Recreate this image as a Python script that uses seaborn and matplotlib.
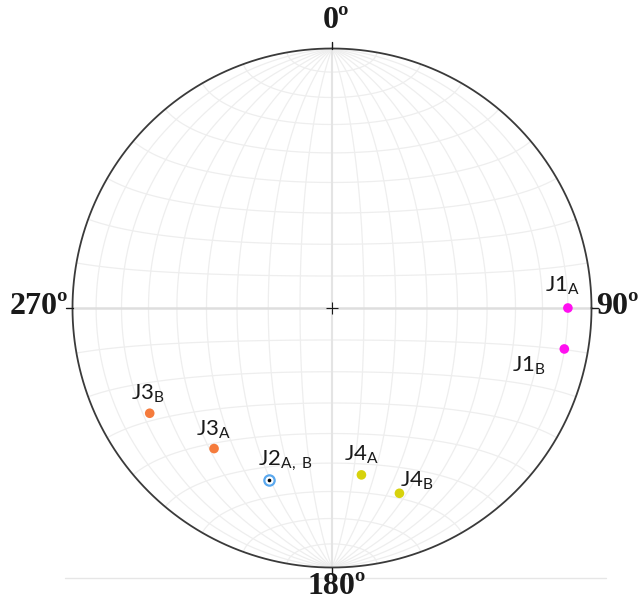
import numpy as np
import matplotlib
matplotlib.use("Agg")
import matplotlib.pyplot as plt
import seaborn as sns
import pandas as pd

# ---- data: poles (trend / plunge, degrees) ----
names = ["J1A", "J1B", "J2AB", "J3A", "J3B", "J4A", "J4B"]
sets = ["J1", "J1", "J2", "J3", "J3", "J4", "J4"]
trend = [90, 100, 200, 220, 240, 170, 160]
plunge = [10, 10, 30, 30, 20, 35, 25]
label_text = [r"$\mathrm{J1_{A}}$", r"$\mathrm{J1_{B}}$", r"$\mathrm{J2_{A,\ B}}$",
              r"$\mathrm{J3_{A}}$", r"$\mathrm{J3_{B}}$", r"$\mathrm{J4_{A}}$", r"$\mathrm{J4_{B}}$"]
cardinal_labels = ["0º", "90º", "180º", "270º"]

sns.set_theme(style="white")
plt.rcParams["mathtext.fontset"] = "custom"
plt.rcParams["mathtext.rm"] = "Lato"
plt.rcParams["mathtext.it"] = "Lato:italic"
plt.rcParams["mathtext.bf"] = "Lato:bold"


def project(tr, pl):
    tr = np.radians(np.asarray(tr, float))
    pl = np.radians(np.asarray(pl, float))
    e = np.cos(pl) * np.sin(tr)
    n = np.cos(pl) * np.cos(tr)
    d = np.sin(pl)
    return e / np.sqrt(1 + d), n / np.sqrt(1 + d)


def proj_vec(e, n, d):
    return e / np.sqrt(1 + d), n / np.sqrt(1 + d)


W, H = 641, 601
cx, cy, R = 332.0, 308.0, 259.5
fig = plt.figure(figsize=(W / 100, H / 100), dpi=100)
ax = fig.add_axes([0, 0, 1, 1])
ax.set_xlim(-cx / R, (W - cx) / R)
ax.set_ylim(-(H - cy) / R, cy / R)
ax.set_aspect("equal")
ax.axis("off")

gcol = "#eeeeee"
t = np.radians(np.linspace(-90, 90, 361))
# meridians (great circles through N-S axis)
for dip in range(10, 90, 10):
    dr = np.radians(dip)
    for s in (1, -1):
        e = s * np.cos(t) * np.cos(dr)
        n = np.sin(t)
        d = np.cos(t) * np.sin(dr)
        x, y = proj_vec(e, n, d)
        ax.plot(x, y, color=gcol, lw=0.9, zorder=1)
# small circles about N-S axis
a = np.radians(np.linspace(-90, 90, 361))
for lat in range(-80, 90, 10):
    if lat == 0:
        continue
    lr = np.radians(lat)
    e = np.cos(lr) * np.sin(a)
    n = np.full_like(a, np.sin(lr))
    d = np.cos(lr) * np.cos(a)
    x, y = proj_vec(e, n, d)
    ax.plot(x, y, color=gcol, lw=0.9, zorder=1)
# main axes
ax.plot([-1, 1], [0, 0], color="#dedede", lw=1.8, zorder=1)
ax.plot([0, 0], [-1, 1], color="#e4e4e4", lw=1.5, zorder=1)

# primitive circle
th = np.linspace(0, 2 * np.pi, 721)
ax.plot(np.cos(th), np.sin(th), color="#3a3a3a", lw=1.3, zorder=3)
# ticks
tk = 1.025
ax.plot([0, 0], [1, tk], color="k", lw=1, zorder=3)
ax.plot([0, 0], [-1, -tk], color="k", lw=1, zorder=3)
ax.plot([1, tk], [0, 0], color="k", lw=1, zorder=3)
ax.plot([-1, -tk], [0, 0], color="k", lw=1, zorder=3)
# centre cross
ax.plot([0], [0], marker="+", color="k", ms=9, mew=0.8, zorder=4)
# faint line below the net
ax.plot([(65 - cx) / R, (606 - cx) / R], [(cy - 578) / R] * 2, color="#e6e6e6", lw=1, zorder=1)

# cardinal labels
cpos = [(336, 21), (617, 306), (337, 586), (39, 307)]
for txt, (px, py) in zip(cardinal_labels, cpos):
    ax.text((px - cx) / R, (cy - py) / R, txt, ha="center", va="center",
            fontsize=23, fontweight="bold", family="Liberation Serif", color="k")

# points
x, y = project(trend, plunge)
df = pd.DataFrame({"name": names, "set": sets, "x": x, "y": y})
palette = {"J1": "#ff10f0", "J3": "#f57b3c", "J4": "#d7d20c"}
solid = df[df["set"] != "J2"]
sns.scatterplot(data=solid, x="x", y="y", hue="set", palette=palette, s=48,
                linewidth=0, legend=False, ax=ax, zorder=5)
j2 = df[df["set"] == "J2"]
sns.scatterplot(data=j2, x="x", y="y", s=55, color="white", edgecolor="#5aa8ee",
                linewidth=1.6, legend=False, ax=ax, zorder=5)
sns.scatterplot(data=j2, x="x", y="y", s=7, color="black", linewidth=0,
                legend=False, ax=ax, zorder=6)
ax.set_xlabel("")
ax.set_ylabel("")

# labels
offs = [(-5, 22), (-35, -17), (16, 20), (-1, 19), (-2, 19), (0, 20), (17, 12)]
for (xi, yi, lab, o) in zip(x, y, label_text, offs):
    ax.annotate(lab, (xi, yi), xytext=o, textcoords="offset pixels",
                ha="center", va="center", fontsize=16, color="k", zorder=7)

fig.savefig("out.png", dpi=100)
